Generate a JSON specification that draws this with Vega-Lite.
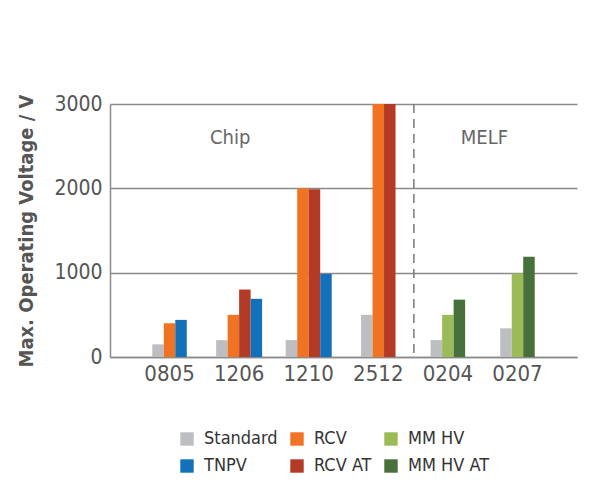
{
  "$schema": "https://vega.github.io/schema/vega-lite/v6.json",
  "autosize": "none",
  "width": 467,
  "height": 253,
  "padding": {"left": 110, "top": 104, "right": 20, "bottom": 142},
  "background": "white",
  "config": {
    "view": {"stroke": null},
    "font": "DejaVu Sans Condensed, Roboto, sans-serif",
    "axis": {"labelFont": "DejaVu Sans Condensed, Roboto, sans-serif", "titleFont": "DejaVu Sans Condensed, Roboto, sans-serif"},
    "legend": {"labelFont": "DejaVu Sans Condensed, Roboto, sans-serif"}
  },
  "datasets": {
    "bars": [
      {"category": "0805", "series": "Standard", "voltage": 150},
      {"category": "0805", "series": "RCV", "voltage": 400},
      {"category": "0805", "series": "TNPV", "voltage": 440},
      {"category": "1206", "series": "Standard", "voltage": 200},
      {"category": "1206", "series": "RCV", "voltage": 500},
      {"category": "1206", "series": "RCV AT", "voltage": 800},
      {"category": "1206", "series": "TNPV", "voltage": 690},
      {"category": "1210", "series": "Standard", "voltage": 200},
      {"category": "1210", "series": "RCV", "voltage": 2000},
      {"category": "1210", "series": "RCV AT", "voltage": 1990},
      {"category": "1210", "series": "TNPV", "voltage": 985},
      {"category": "2512", "series": "Standard", "voltage": 500},
      {"category": "2512", "series": "RCV", "voltage": 3000},
      {"category": "2512", "series": "RCV AT", "voltage": 3000},
      {"category": "0204", "series": "Standard", "voltage": 200},
      {"category": "0204", "series": "MM HV", "voltage": 500},
      {"category": "0204", "series": "MM HV AT", "voltage": 680},
      {"category": "0207", "series": "Standard", "voltage": 340},
      {"category": "0207", "series": "MM HV", "voltage": 990},
      {"category": "0207", "series": "MM HV AT", "voltage": 1190}
    ],
    "chip": [
      {"category": "1206", "voltage": 2600, "label": "Chip"}
    ],
    "melf": [
      {"category": "0207", "voltage": 2600, "label": "MELF"}
    ],
    "divider": [
      {"category": "0204"}
    ]
  },
  "encoding": {
    "x": {
      "field": "category",
      "type": "nominal",
      "sort": ["0805", "1206", "1210", "2512", "0204", "0207"],
      "scale": {"paddingInner": 0.339, "paddingOuter": 0.525},
      "axis": {
        "title": null,
        "labelAngle": 0,
        "labelFontSize": 22,
        "labelColor": "#555555",
        "labelPadding": 6,
        "ticks": false,
        "domainColor": "#8a8a8a",
        "domainWidth": 1.5
      }
    }
  },
  "layer": [
    {
      "data": {"name": "bars"},
      "transform": [
        {"filter": {"field": "category", "oneOf": ["1206", "1210"]}},
        {"window": [{"op": "row_number", "as": "rank"}], "groupby": ["category"]}
      ],
      "mark": {"type": "bar"},
      "encoding": {
        "xOffset": {"field": "rank", "type": "ordinal", "scale": {"domain": [1, 2, 3, 4], "paddingInner": 0, "paddingOuter": 0}},
        "y": {
          "field": "voltage",
          "type": "quantitative",
          "scale": {"domain": [0, 3000], "nice": false},
          "axis": {
            "title": "Max. Operating Voltage / V",
            "titleFontSize": 20,
            "titleFontWeight": "bold",
            "titleColor": "#555555",
            "titlePadding": 17,
            "values": [0, 1000, 2000, 3000],
            "format": "d",
            "labelFontSize": 21,
            "labelColor": "#555555",
            "labelPadding": 8,
            "ticks": false,
            "grid": true,
            "gridColor": "#8a8a8a",
            "gridWidth": 1.5,
            "domain": true,
            "domainColor": "#8a8a8a",
            "domainWidth": 1.5
          }
        },
        "color": {
          "field": "series",
          "type": "nominal",
          "scale": {
            "domain": ["Standard", "RCV", "MM HV", "TNPV", "RCV AT", "MM HV AT"],
            "range": ["#BCBEC1", "#F07324", "#9BBB59", "#1570BA", "#B33A25", "#47703A"]
          },
          "legend": {
            "title": null,
            "orient": "none",
            "legendX": 68,
            "legendY": 326,
            "direction": "horizontal",
            "columns": 3,
            "symbolType": "square",
            "symbolSize": 180,
            "symbolStrokeWidth": 0,
            "labelFontSize": 18,
            "labelColor": "#333333",
            "labelOffset": 8,
            "columnPadding": 10,
            "rowPadding": 9
          }
        }
      }
    },
    {
      "data": {"name": "bars"},
      "transform": [
        {"filter": {"not": {"field": "category", "oneOf": ["1206", "1210"]}}},
        {"window": [{"op": "row_number", "as": "rank"}], "groupby": ["category"]}
      ],
      "mark": {"type": "bar"},
      "encoding": {
        "xOffset": {"field": "rank", "type": "ordinal", "scale": {"domain": [1, 2, 3], "paddingInner": 0, "paddingOuter": 0.5}},
        "y": {"field": "voltage", "type": "quantitative"},
        "color": {"field": "series", "type": "nominal"}
      }
    },
    {
      "data": {"name": "divider"},
      "mark": {"type": "rule", "strokeDash": [9, 6], "color": "#777777", "strokeWidth": 1.5, "xOffset": -11},
      "encoding": {
        "x": {"field": "category", "type": "nominal", "bandPosition": 0}
      }
    },
    {
      "data": {"name": "chip"},
      "mark": {"type": "text", "fontSize": 20, "color": "#666666", "xOffset": -9},
      "encoding": {
        "x": {"field": "category", "type": "nominal"},
        "y": {"field": "voltage", "type": "quantitative"},
        "text": {"field": "label"}
      }
    },
    {
      "data": {"name": "melf"},
      "mark": {"type": "text", "fontSize": 20, "color": "#666666", "xOffset": -33},
      "encoding": {
        "x": {"field": "category", "type": "nominal"},
        "y": {"field": "voltage", "type": "quantitative"},
        "text": {"field": "label"}
      }
    }
  ],
  "resolve": {"scale": {"xOffset": "independent"}}
}
